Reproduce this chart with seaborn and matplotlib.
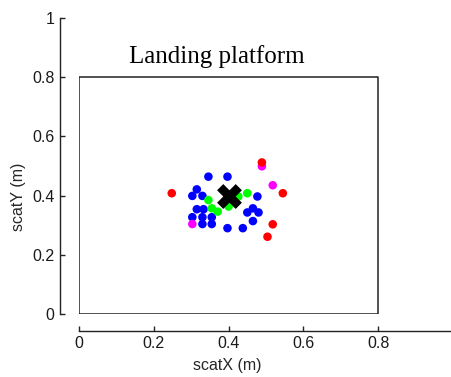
import matplotlib
matplotlib.use("Agg")
import matplotlib.pyplot as plt
import seaborn as sns
import pandas as pd

# landing positions (m)
red_x = [0.248, 0.489, 0.545, 0.518, 0.504]
red_y = [0.408, 0.512, 0.408, 0.303, 0.261]
magenta_x = [0.489, 0.518, 0.303]
magenta_y = [0.499, 0.435, 0.304]
green_x = [0.450, 0.346, 0.355, 0.371, 0.426, 0.400]
green_y = [0.408, 0.385, 0.357, 0.346, 0.397, 0.363]
blue_x = [0.346, 0.397, 0.315, 0.303, 0.330, 0.477, 0.315, 0.333, 0.303, 0.330,
          0.355, 0.330, 0.355, 0.450, 0.465, 0.480, 0.465, 0.397, 0.438]
blue_y = [0.464, 0.464, 0.421, 0.399, 0.399, 0.397, 0.354, 0.354, 0.327, 0.327,
          0.327, 0.304, 0.304, 0.343, 0.357, 0.343, 0.314, 0.290, 0.290]
target_x = [0.4]
target_y = [0.4]

# platform outline
platform_x = [0, 0.8, 0.8, 0, 0]
platform_y = [0, 0, 0.8, 0.8, 0]

xticks = [0, 0.2, 0.4, 0.6, 0.8]
yticks = [0, 0.2, 0.4, 0.6, 0.8, 1.0]

groups = ["blue"] * len(blue_x) + ["green"] * len(green_x) + \
         ["magenta"] * len(magenta_x) + ["red"] * len(red_x)
df = pd.DataFrame({
    "x": blue_x + green_x + magenta_x + red_x,
    "y": blue_y + green_y + magenta_y + red_y,
    "grp": groups,
})
palette = {"blue": "#0000ff", "green": "#00ff00", "magenta": "#ff00ff", "red": "#ff0000"}

sns.set_style("white")
plt.rcParams["font.family"] = ["Liberation Sans", "DejaVu Sans"]

fig = plt.figure(figsize=(4.51, 3.77), dpi=100)
ax = fig.add_axes([79 / 451, 63 / 377, 374 / 451, 296 / 377])

ax.plot(platform_x, platform_y, color="#222222", lw=1.1)
sns.scatterplot(data=df, x="x", y="y", hue="grp", palette=palette, s=38,
                marker="o", linewidth=0, legend=False, ax=ax, zorder=3)
sns.scatterplot(x=target_x, y=target_y, color="black", marker="X", s=320,
                linewidth=0, legend=False, ax=ax, zorder=4)

ax.text(0.368, 0.848, "Landing platform", family="Liberation Serif", fontsize=18,
        ha="center", va="baseline", color="black")

ax.set_xlim(0, 1)
ax.set_ylim(0, 1)
ax.set_xticks(xticks)
ax.set_yticks(yticks)
ax.set_xticklabels([f"{v:g}" for v in xticks])
ax.set_yticklabels([f"{v:g}" for v in yticks])
ax.tick_params(bottom=True, left=True, direction="in", length=3.6, width=1,
               colors="#222222", labelsize=11.5, pad=4, labelcolor="#1a1a1a")

sns.despine(ax=ax, offset={"left": 13.7, "bottom": 12.2})
for side in ["left", "bottom"]:
    ax.spines[side].set_color("#222222")
    ax.spines[side].set_linewidth(1.0)

ax.set_xlabel("scatX (m)", fontsize=11.5, color="#262626")
ax.set_ylabel("scatY (m)", fontsize=11.5, color="#262626")
ax.xaxis.set_label_coords(0.397, -0.149)
ax.yaxis.set_label_coords(-0.142, 0.395)

fig.savefig("out.png", dpi=100)
